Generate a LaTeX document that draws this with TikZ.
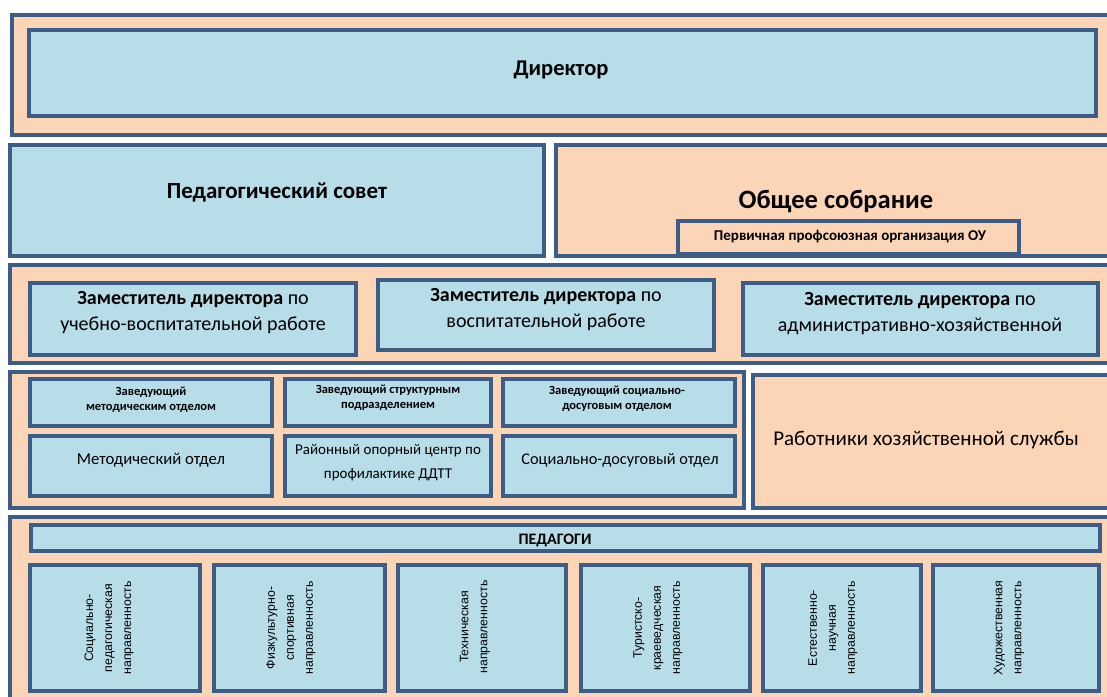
\documentclass[tikz,border=0pt]{standalone}
\usepackage{fontspec}
\setmainfont{Carlito}
\newfontfamily\arialfont{Liberation Sans}
\definecolor{ramka}{RGB}{62,93,134}
\definecolor{goluboj}{RGB}{183,221,232}
\definecolor{persik}{RGB}{251,213,181}
\begin{document}
\begin{tikzpicture}[x=1pt,y=-1pt,
  pole/.style={draw=ramka,line width=4pt,fill=persik},
  blok/.style={draw=ramka,line width=4pt,fill=goluboj},
  zam/.style={align=center,font=\fontsize{20}{26}\selectfont},
  zav/.style={align=center,font=\bfseries\fontsize{12.5}{15}\selectfont},
  napr/.style={rotate=90,align=center,font=\arialfont\fontsize{12.3}{19}\selectfont}]
\fill[white](0,0)rectangle(1107,696);
\clip(0,0)rectangle(1107,696);
\draw[pole](12,15)rectangle(1115,135);
\draw[blok](29,30)rectangle(1096,116);
\node(dir) at (561,70){\bfseries\fontsize{22.5}{26}\selectfont Директор};
\draw[blok](10,145)rectangle(544,256);
\node(pedsovet) at (277,192){\bfseries\fontsize{23}{27}\selectfont Педагогический совет};
\draw[pole](556,145)rectangle(1115,256);
\node(sobranie) at (836,202){\bfseries\fontsize{26.5}{30}\selectfont Общее собрание};
\draw[pole](678,221)rectangle(1019,254);
\node(profsojuz) at (850,237){\bfseries\fontsize{15}{17}\selectfont Первичная профсоюзная организация ОУ};
\draw[pole](10,265)rectangle(1115,363);
\draw[blok](30,283)rectangle(356,355);
\draw[blok](378,280)rectangle(714,350);
\draw[blok](743,283)rectangle(1098,355);
\node[zam](zamuvr) at (193,313){\textbf{Заместитель директора} по\\учебно-воспитательной работе};
\node[zam](zamvr) at (546,310){\textbf{Заместитель директора} по\\воспитательной работе};
\node[zam](zamahr) at (920,314){\textbf{Заместитель директора} по\\административно-хозяйственной};
\draw[pole](10,372)rectangle(744,508);
\draw[blok](30,379)rectangle(272,426);
\draw[blok](285,379)rectangle(491,426);
\draw[blok](503,379)rectangle(735,426);
\draw[blok](30,436)rectangle(272,496);
\draw[blok](285,436)rectangle(491,496);
\draw[blok](503,436)rectangle(735,496);
\node[zav](zavmet) at (151,400){Заведующий\\методическим отделом};
\node[zav](zavstr) at (388,398){Заведующий структурным\\подразделением};
\node[zav](zavsoc) at (617,399){Заведующий социально-\\досуговым отделом};
\node(metotdel) at (151,460){\fontsize{16.7}{20}\selectfont Методический отдел};
\node[align=center,font=\fontsize{15}{24}\selectfont](ddtt) at (388,463){Районный опорный центр по\\профилактике ДДТТ};
\node(socotdel) at (620,460){\fontsize{16.3}{20}\selectfont Социально-досуговый отдел};
\draw[pole](753,375)rectangle(1115,508);
\node(rabotniki) at (926,440){\fontsize{21}{24}\selectfont Работники хозяйственной службы};
\draw[pole](10,517)rectangle(1115,705);
\draw[blok](31,525)rectangle(1100,551);
\node(pedagogi) at (555,540){\bfseries\fontsize{16}{18}\selectfont ПЕДАГОГИ};
\draw[blok](30,565)rectangle(200,691);
\draw[blok](214,565)rectangle(385,691);
\draw[blok](398,565)rectangle(566,691);
\draw[blok](581,565)rectangle(750,691);
\draw[blok](763,565)rectangle(921,691);
\draw[blok](933,565)rectangle(1099,691);
\node[napr](socped) at (109,628){Социально-\\педагогическая\\направленность};
\node[napr](fizsport) at (291,628){Физкультурно-\\спортивная\\направленность};
\node[napr](tehn) at (475,627){Техническая\\направленность};
\node[napr](turist) at (658,628){Туристско-\\краеведческая\\направленность};
\node[napr](estnauch) at (833,628){Естественно-\\научная\\направленность};
\node[napr](hudozh) at (1009,628){Художественная\\направленность};
\end{tikzpicture}
\end{document}
